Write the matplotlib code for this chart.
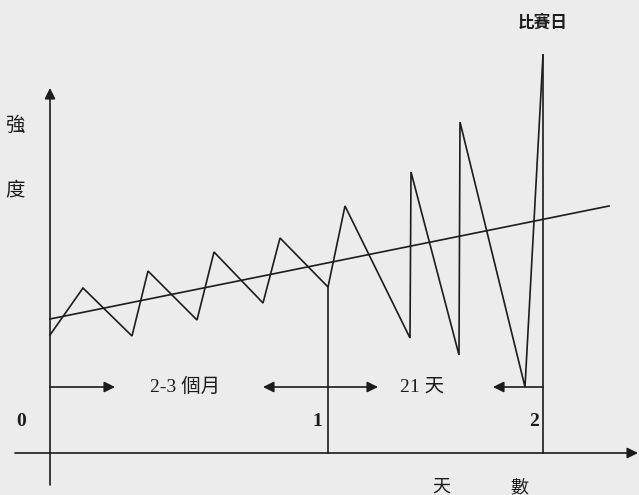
import matplotlib
matplotlib.use("Agg")
import matplotlib.pyplot as plt

# --- data (x: time units, y: intensity units; axes origin at 0,0) ---
zig_x = [0, 33, 82, 98, 147, 164, 213, 230, 278, 295, 360, 361, 409, 410, 475, 493]
zig_y = [118, 165, 117, 182, 133, 201, 150, 215, 166, 247, 115, 281, 98, 331, 66, 398]
trend_x = [0, 559]
trend_y = [134, 247]
marker_x = [278, 493]          # phase boundaries "1" and "2"
marker_top = [166, 398]
phase_labels = ["0", "1", "2"]
phase_label_x = [-29, 267, 484]
period_labels = ["2-3 個月", "21 天"]
ylabel_chars = ["強", "度"]
xlabel_chars = ["天", "數"]
peak_label = "比賽日"

INK = "#1c1c1c"
BG = "#ececec"
SERIF_CJK = ["Liberation Serif", "Noto Sans CJK TC", "DejaVu Sans"]
CJK = ["Noto Sans CJK TC", "DejaVu Sans"]

fig = plt.figure(figsize=(6.39, 4.95), dpi=100, facecolor=BG)
ax = fig.add_axes([0, 0, 1, 1])
ax.set_facecolor(BG)
ax.set_xlim(-50, 589)
ax.set_ylim(-42, 453)
ax.axis("off")

lw = 1.2
ar = dict(arrowstyle="-|>", color=INK, lw=lw, mutation_scale=16,
          shrinkA=0, shrinkB=0)

# axes
ax.annotate("", xy=(0, 365), xytext=(0, -32), arrowprops=ar)
ax.annotate("", xy=(588, 0), xytext=(-35, 0), arrowprops=ar)

# zigzag load curve and trend
ax.plot(zig_x, zig_y, color=INK, lw=lw, solid_joinstyle="miter")
ax.plot(trend_x, trend_y, color=INK, lw=lw)

# phase boundary lines
for mx, mt in zip(marker_x, marker_top):
    ax.plot([mx, mx], [0, mt], color=INK, lw=lw)

# period arrows
ay = 66
ax.annotate("", xy=(65, ay), xytext=(0, ay), arrowprops=ar)
ax.annotate("", xy=(213, ay), xytext=(marker_x[0], ay), arrowprops=ar)
ax.annotate("", xy=(328, ay), xytext=(marker_x[0], ay), arrowprops=ar)
ax.annotate("", xy=(443, ay), xytext=(marker_x[1], ay), arrowprops=ar)

ax.text(135, ay, period_labels[0], ha="center", va="center",
        fontsize=14, color=INK, family=SERIF_CJK)
ax.text(372, ay, period_labels[1], ha="center", va="center",
        fontsize=14, color=INK, family=SERIF_CJK)

# phase labels
for lab, lx in zip(phase_labels, phase_label_x):
    ax.text(lx, 31, lab, ha="center", va="center", fontsize=14,
            fontweight="bold", color=INK, family=["Liberation Serif"])

# axis labels
ax.text(-35, 328, ylabel_chars[0], ha="center", va="center",
        fontsize=14, color=INK, family=CJK)
ax.text(-35, 263, ylabel_chars[1], ha="center", va="center",
        fontsize=14, color=INK, family=CJK)
ax.text(391, -34, xlabel_chars[0], ha="center", va="center",
        fontsize=13, color=INK, family=CJK)
ax.text(469, -34, xlabel_chars[1], ha="center", va="center",
        fontsize=13, color=INK, family=CJK)
ax.text(493, 430, peak_label, ha="center", va="center",
        fontsize=12, fontweight="bold", color=INK, family=CJK)

fig.savefig("out.png", dpi=100, facecolor=BG)
